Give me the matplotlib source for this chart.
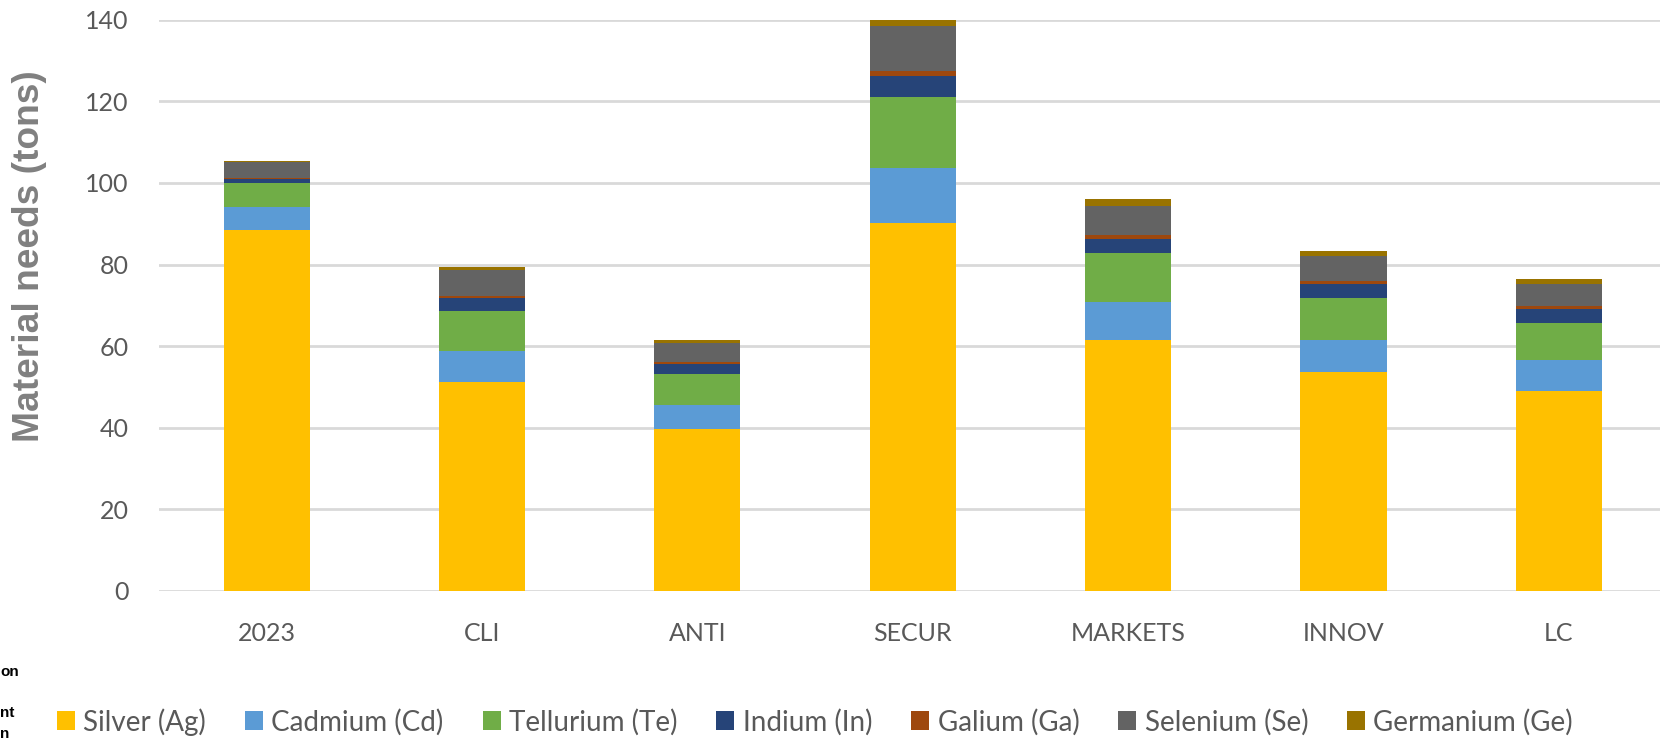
import numpy as np
from matplotlib import pyplot as plt
from matplotlib.patches import Patch

categories = ["2023", "CLI", "ANTI", "SECUR", "MARKETS", "INNOV", "LC"]

# tons per material
silver = [88.5, 51.1, 39.7, 90.2, 61.6, 53.6, 49.1]
cadmium = [5.5, 7.7, 5.9, 13.4, 9.2, 8.0, 7.5]
tellurium = [6.0, 9.7, 7.6, 17.4, 12.0, 10.1, 9.0]
indium = [1.0, 3.2, 2.4, 5.3, 3.5, 3.6, 3.4]
gallium = [0.3, 0.6, 0.6, 1.2, 0.9, 0.7, 0.8]
selenium = [3.8, 6.35, 4.5, 11.0, 7.2, 6.1, 5.4]
germanium = [0.3, 0.65, 0.8, 2.2, 1.7, 1.3, 1.2]

series_labels = ["Silver (Ag)", "Cadmium (Cd)", "Tellurium (Te)", "Indium (In)",
                 "Galium (Ga)", "Selenium (Se)", "Germanium (Ge)"]
series_colors = ["#FFC000", "#5B9BD5", "#70AD47", "#264478",
                 "#9E480E", "#636363", "#997300"]

tick_font = "Lato"
text_gray = "#595959"

fig = plt.figure(figsize=(16.6, 7.38), dpi=100)
ax = fig.add_axes([0.0958, 0.1992, 0.9081, 0.7741])

x = np.arange(len(categories))
bottom = np.zeros(len(categories))
all_series = [silver, cadmium, tellurium, indium, gallium, selenium, germanium]
for vals, color in zip(all_series, series_colors):
    ax.bar(x, vals, width=0.4, bottom=bottom, color=color, zorder=3, linewidth=0)
    bottom += np.array(vals)

ax.set_xlim(-0.5, 6.5)
ax.set_ylim(0, 140)
ax.set_yticks(range(0, 141, 20))
ax.set_xticks(x)
ax.set_xticklabels(categories)
ax.grid(axis="y", color="#D9D9D9", linewidth=2.0, zorder=0)
for s in ax.spines.values():
    s.set_visible(False)
ax.tick_params(axis="both", length=0, labelsize=18, labelcolor=text_gray)
ax.tick_params(axis="y", pad=22)
ax.tick_params(axis="x", pad=22)
for lbl in ax.get_xticklabels() + ax.get_yticklabels():
    lbl.set_fontfamily(tick_font)

fig.text(0.018, 1 - 256.5 / 738, "Material needs (tons)", rotation=90,
         ha="center", va="center", fontsize=26.7, fontweight="bold",
         color="#808080", family="Liberation Sans")

handles = [Patch(facecolor=c, edgecolor="none") for c in series_colors]
fig.legend(handles, series_labels, loc="center left",
           bbox_to_anchor=(57 / 1660, 1 - 721.7 / 738), ncol=7, frameon=False,
           prop={"family": tick_font, "size": 20}, labelcolor=text_gray,
           handlelength=0.65, handleheight=0.65, handletextpad=0.3,
           columnspacing=1.4, borderpad=0, borderaxespad=0)

# fragments of a neighbouring caption cut off at the left edge
fig.text(0.0, 1 - 672 / 738, "on", ha="left", va="center", fontsize=11,
         fontweight="bold", family="Liberation Sans")
fig.text(0.0, 1 - 713 / 738, "nt", ha="left", va="center", fontsize=11,
         fontweight="bold", family="Liberation Sans")
fig.text(0.0, 1 - 727 / 738, "n", ha="left", va="top", fontsize=11,
         fontweight="bold", family="Liberation Sans")

fig.savefig("out.png", dpi=100)
